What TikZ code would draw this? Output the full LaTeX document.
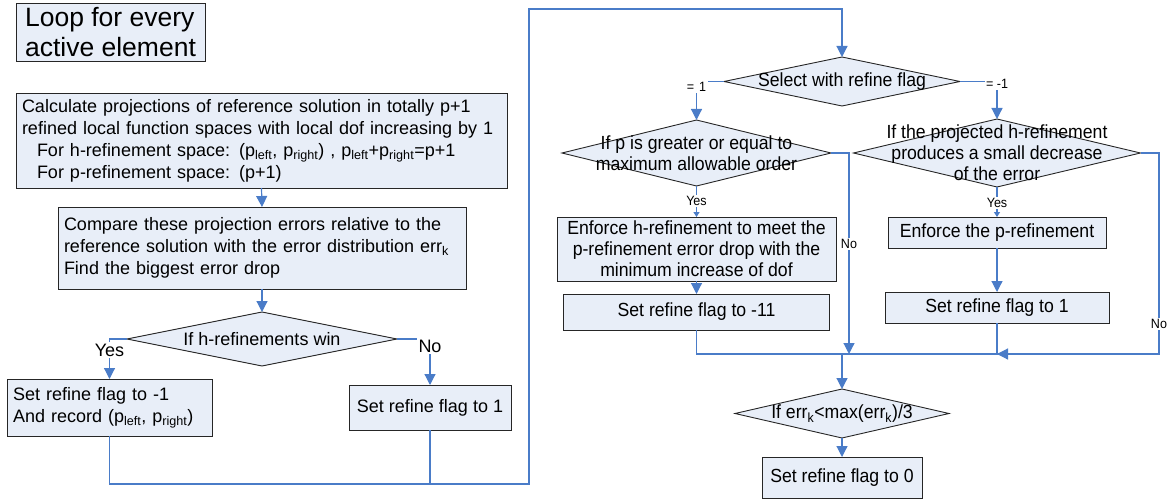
\documentclass[tikz,border=0pt]{standalone}
\usepackage{fontspec}
\setmainfont{Liberation Sans}
\newfontfamily\condfont[FakeStretch=0.93]{Liberation Sans}
\usetikzlibrary{arrows.meta, shapes.geometric}

\definecolor{boxfill}{HTML}{E8EEF8}
\definecolor{linkblue}{HTML}{4A7CC8}
\definecolor{edge}{HTML}{262626}

\tikzset{
  every node/.style={inner sep=0pt, outer sep=0pt},
  lfont/.style={font=\fontsize{18}{22}\selectfont},
  rfont/.style={font=\condfont\fontsize{19}{21}\selectfont},
  sfont/.style={font=\condfont\fontsize{13.5}{15}\selectfont},
  box/.style={draw=edge, fill=boxfill, line width=0.9pt},
  lbox/.style={box, lfont, align=left, inner xsep=6pt},
  cbox/.style={box, align=center},
  dia/.style={diamond, draw=edge, fill=boxfill, line width=0.9pt},
  link/.style={draw=linkblue, line width=1.2pt},
  flow/.style={link, -{Triangle[length=11pt,width=11pt]}},
  smallflow/.style={link, -{Triangle[length=5pt,width=6pt]}},
  lbl/.style={fill=white, inner sep=1.5pt},
}

\begin{document}
\begin{tikzpicture}[x=1pt, y=-1pt]
\useasboundingbox (0,0) rectangle (1170,500);

% ---- left column: projections and h/p decision ----
\node[box, font=\fontsize{26.5}{30}\selectfont, align=left,
      minimum width=189pt, minimum height=58pt] (loop) at (110.5,32)
  {Loop for every\\active element};

\node[lbox, text width=479pt, minimum height=95pt] (calc) at (261.5,140.5)
  {Calculate projections of reference solution in totally p+1\\
   refined local function spaces with local dof increasing by 1\\
   \hspace*{15pt}For h-refinement space: (p\textsubscript{left}, p\textsubscript{right}) , p\textsubscript{left}+p\textsubscript{right}=p+1\\
   \hspace*{15pt}For p-refinement space: (p+1)};

\node[lbox, text width=396pt, minimum height=82pt] (cmp) at (262,248)
  {Compare these projection errors relative to the\\
   reference solution with the error distribution err\textsubscript{k}\\
   Find the biggest error drop};

\node[dia, minimum width=270pt, minimum height=54pt] (dwin) at (262,339) {};
\node[lfont] (twin) at (dwin) {If h-refinements win};

\node[lbox, text width=193pt, minimum height=57pt] (setm1) at (109.5,407.5)
  {Set refine flag to -1\\And record (p\textsubscript{left}, p\textsubscript{right})};

\node[cbox, lfont, minimum width=162pt, minimum height=45pt] (setp1) at (430,407.5)
  {Set refine flag to 1};

% ---- right column: refine flag handling ----
\node[dia, minimum width=236pt, minimum height=49pt] (dsel) at (842,81.5) {};
\node[rfont] (tsel) at (dsel) {Select with refine flag};

\node[dia, minimum width=269pt, minimum height=66pt] (dp) at (696.5,153) {};
\node[rfont, align=center] (tp) at (dp)
  {If p is greater or equal to\\maximum allowable order};

\node[dia, minimum width=287pt, minimum height=68pt] (dh) at (997,153) {};
\node[rfont, align=center] (th) at (dh)
  {If the projected h-refinement\\produces a small decrease\\of the error};

\node[cbox, rfont, minimum width=279pt, minimum height=64pt] (enfh) at (696.5,249)
  {Enforce h-refinement to meet the\\p-refinement error drop with the\\minimum increase of dof};

\node[cbox, rfont, minimum width=266pt, minimum height=36pt] (setm11) at (696.5,312)
  {Set refine flag to -11};

\node[cbox, rfont, minimum width=218pt, minimum height=31pt] (enfp) at (997,232.5)
  {Enforce the p-refinement};

\node[cbox, rfont, minimum width=224pt, minimum height=31pt] (setp1r) at (997,307.5)
  {Set refine flag to 1};

\node[dia, minimum width=214pt, minimum height=49pt] (derr) at (842,413.5) {};
\node[rfont] (terr) at (derr) {If err\textsubscript{k}<max(err\textsubscript{k})/3};

\node[cbox, rfont, minimum width=160pt, minimum height=41pt] (set0) at (842,477.5)
  {Set refine flag to 0};

% ---- route points ----
\coordinate (loopbot) at (529,484);
\coordinate (looptop) at (529,9);
\coordinate (mergeR)  at (1159,354);
\coordinate (noL)     at (849,354);

% ---- connectors, left column ----
\draw[flow] (calc.south) -- (cmp.north);
\draw[flow] (cmp.south) -- (dwin.north);
\draw[flow] (dwin.west) -| (setm1.north);
\draw[flow] (dwin.east) -| (setp1.north);
\node[lbl, lfont] (lyes) at (109.5,350) {Yes};
\node[lbl, lfont] (lno)  at (430,346) {No};

% both outcomes continue to the flag selection
\draw[flow] (setm1.south) |- (loopbot) -- (looptop) -| (dsel.north);
\draw[link] (setp1.south) -- (setp1.south |- loopbot);

% ---- connectors, right column ----
\draw[flow] (dsel.west) -| (dp.north);
\draw[flow] (dsel.east) -| (dh.north);
\node[lbl, sfont] (leq1)  at (696.5,87) {=\hspace{5pt}1};
\node[lbl, sfont] (leqm1) at (997,84) {= -1};

\draw[smallflow] (dp.south) -- (enfh.north);
\node[lbl, sfont] (lyesp) at (696.5,201) {Yes};
\draw[flow] (enfh.south) -- (setm11.north);

\draw[smallflow] (dh.south) -- (enfp.north);
\node[lbl, sfont] (lyesh) at (997,203) {Yes};
\draw[flow] (enfp.south) -- (setp1r.north);

% merge line and the two "No" branches
\draw[link] (setm11.south) |- (mergeR);
\draw[link] (setp1r.south) -- (setp1r.south |- mergeR);
\draw[flow] (dp.east) -| (noL);
\node[lbl, sfont] (lnop) at (849,244) {No};
\draw[flow] (dh.east) -| (mergeR) -- (setp1r.south |- mergeR);
\node[lbl, sfont] (lnoh) at (1159,324) {No};

\draw[flow] (derr.north |- mergeR) -- (derr.north);
\draw[flow] (derr.south) -- (set0.north);
\end{tikzpicture}
\end{document}
